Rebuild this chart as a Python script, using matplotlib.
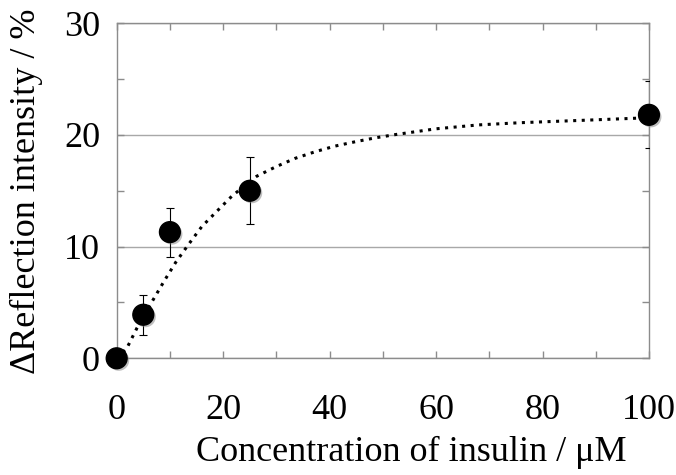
import matplotlib.pyplot as plt
import matplotlib.patheffects as pe
from matplotlib.ticker import MultipleLocator

# Données mesurées
conc = [0, 5, 10, 25, 100]
intensity = [0, 3.9, 11.3, 15.0, 21.8]
err = [0, 1.8, 2.2, 3.0, 3.0]

# Courbe de tendance
fit_x = [0, 1.9, 3.8, 6.8, 8.9, 11.1, 13.5, 16, 19.1, 21.6, 23.9, 26.3, 29.9, 33.5, 37.3, 41,
         44.9, 48.7, 52.6, 60, 68, 76, 87, 97.7, 100]
fit_y = [0, 0.9, 2.7, 5.2, 6.9, 8.6, 10.2, 11.8, 13.3, 14.5, 15.4, 16.3, 17.15, 17.9, 18.5, 19.0,
         19.4, 19.75, 20.05, 20.55, 20.9, 21.1, 21.3, 21.5, 21.55]

plt.rcParams['font.family'] = ['Liberation Serif', 'DejaVu Serif']

fig = plt.figure(figsize=(6.76, 4.75), dpi=100)
ax = fig.add_axes([0.1726, 0.2457, 0.7874, 0.7053])

ax.plot(fit_x, fit_y, color='black', linestyle=(0, (1, 1.8)), linewidth=2.2,
        dash_capstyle='butt', zorder=3)

ax.errorbar(conc, intensity, yerr=err, fmt='none', ecolor='black', elinewidth=0.8,
            capsize=3, capthick=0.8, zorder=4)
ax.plot(conc, intensity, 'o', color='black', markersize=15, clip_on=False, zorder=5,
        path_effects=[pe.SimplePatchShadow(offset=(1.5, -1.5), shadow_rgbFace='gray', alpha=0.5),
                      pe.Normal()])

ax.set_xlim(0, 100)
ax.set_ylim(0, 30)
ax.xaxis.set_major_locator(MultipleLocator(20))
ax.xaxis.set_minor_locator(MultipleLocator(10))
ax.yaxis.set_major_locator(MultipleLocator(10))
ax.yaxis.set_minor_locator(MultipleLocator(5))

ax.grid(axis='y', which='major', color='#a8a8a8', linewidth=1)
ax.set_axisbelow(True)
for s in ax.spines.values():
    s.set_color('#8c8c8c')
    s.set_linewidth(1)
ax.tick_params(which='both', direction='in', top=True, right=True, length=5,
               color='#8c8c8c', width=1, labelsize=26)
ax.tick_params(axis='x', which='both', pad=26)
ax.tick_params(axis='y', which='both', pad=12)

ax.set_xlabel('Concentration of insulin / μM', fontsize=26)
ax.xaxis.set_label_coords(0.553, -0.232)
ax.set_ylabel('ΔReflection intensity / %', fontsize=26)
ax.yaxis.set_label_coords(-0.138, 0.5)

plt.savefig('out.png', dpi=100)
